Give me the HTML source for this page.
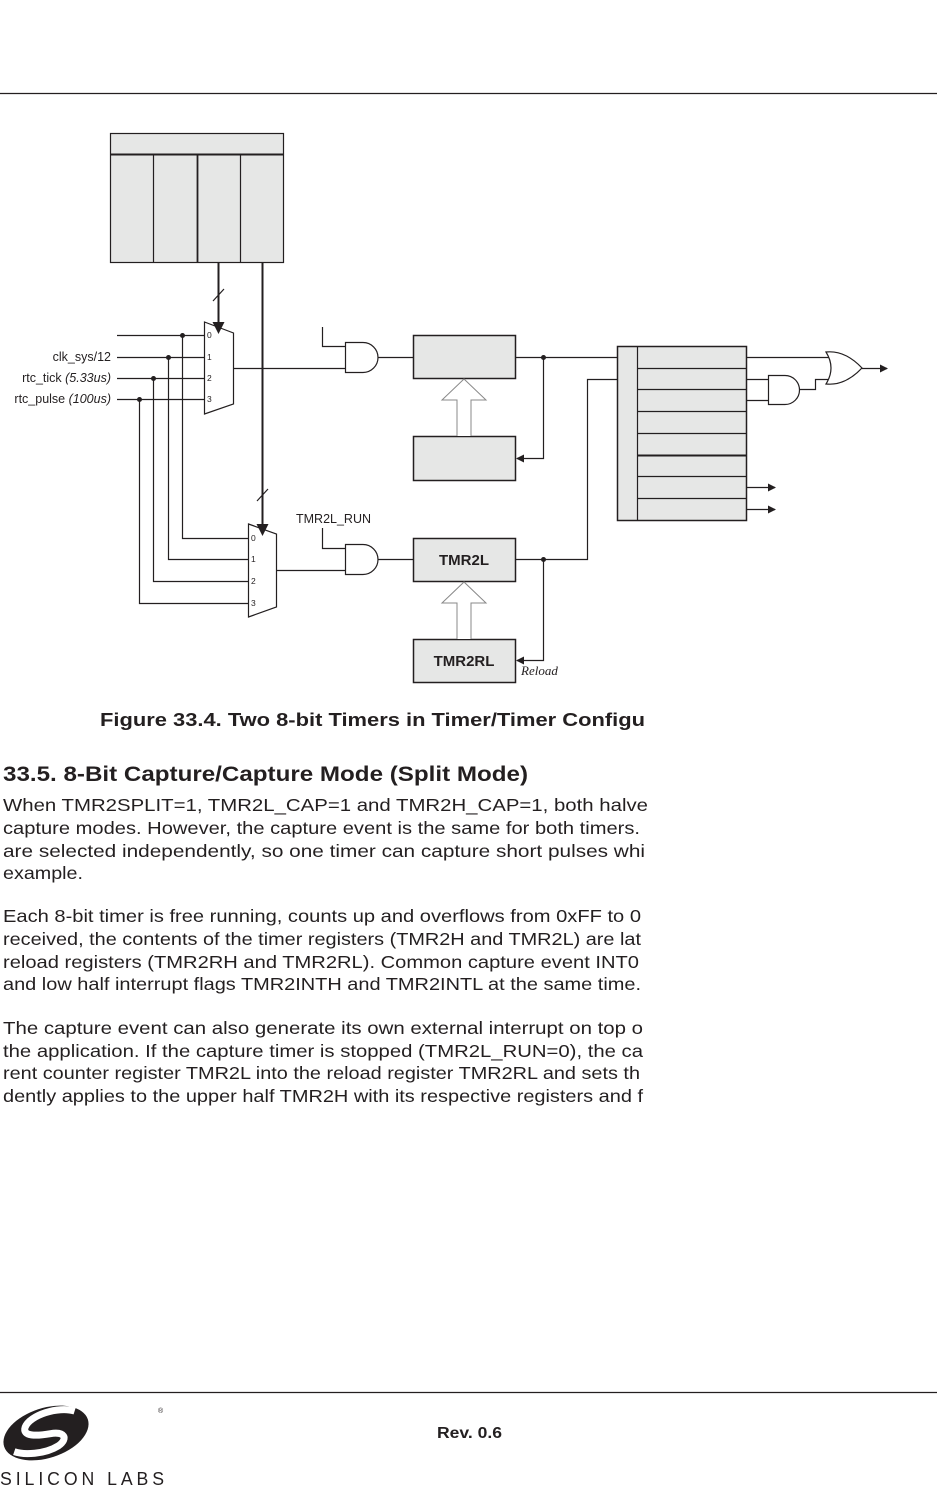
<!DOCTYPE html>
<html><head><meta charset="utf-8"><style>
html,body{margin:0;padding:0;background:#fff;}
svg{display:block;}
text{font-family:"Liberation Sans",Arial,sans-serif;fill:#231f20;}
</style></head><body>
<svg width="937" height="1487" viewBox="0 0 937 1487" xmlns="http://www.w3.org/2000/svg">
<defs>
<marker id="ah" markerWidth="8" markerHeight="8" refX="7" refY="4" orient="auto" markerUnits="userSpaceOnUse"><path d="M0,0 L8,4 L0,8 z" fill="#231f20"/></marker>
<marker id="ahb" markerWidth="12" markerHeight="12" refX="10" refY="6" orient="auto" markerUnits="userSpaceOnUse"><path d="M0,0 L12,6 L0,12 z" fill="#231f20"/></marker>
</defs>
<line x1="0" y1="93.5" x2="937" y2="93.5" stroke="#231f20" stroke-width="1.2"/>
<line x1="0" y1="1392.5" x2="937" y2="1392.5" stroke="#231f20" stroke-width="1.2"/>

<g stroke="#231f20" fill="none" stroke-width="1.2">
<!-- top register -->
<rect x="110.5" y="133.5" width="173" height="129" fill="#e6e7e6"/>
<line x1="110" y1="154.5" x2="284" y2="154.5" stroke-width="2"/>
<line x1="153.5" y1="154" x2="153.5" y2="262"/>
<line x1="197.5" y1="154" x2="197.5" y2="262" stroke-width="1.8"/>
<line x1="240.5" y1="154" x2="240.5" y2="262"/>
<!-- mux1 -->
<path d="M204.5,322 L233.5,333 L233.5,404 L204.5,414 Z" fill="#fff"/>
<!-- mux2 -->
<path d="M248.5,524 L276.5,534 L276.5,607 L248.5,617 Z" fill="#fff"/>
<!-- buses -->
<line x1="218.5" y1="262" x2="218.5" y2="332" stroke-width="2" marker-end="url(#ahb)"/>
<line x1="213" y1="301" x2="224" y2="289"/>
<line x1="262.5" y1="262" x2="262.5" y2="534" stroke-width="2" marker-end="url(#ahb)"/>
<line x1="257" y1="501" x2="268" y2="489"/>
<!-- input lines -->
<line x1="117" y1="335.5" x2="204" y2="335.5"/>
<line x1="117" y1="357.5" x2="204" y2="357.5"/>
<line x1="117" y1="378.5" x2="204" y2="378.5"/>
<line x1="117" y1="399.5" x2="204" y2="399.5"/>
<path d="M182.5,335 V538.5 H248"/>
<path d="M168.5,357 V559.5 H248"/>
<path d="M153.5,378 V581.5 H248"/>
<path d="M139.5,399 V603.5 H248"/>
<!-- mux outputs -->
<line x1="233" y1="368.5" x2="345" y2="368.5"/>
<line x1="276" y1="570.5" x2="345" y2="570.5"/>
<path d="M322.5,327 V346.5 H345"/>
<path d="M322.5,528 V548.5 H345"/>
<!-- AND1, AND2 -->
<path d="M345.5,342.5 H363 A15,15 0 0 1 363,372.5 H345.5 Z" fill="#fff"/>
<path d="M345.5,544.5 H363 A15,15 0 0 1 363,574.5 H345.5 Z" fill="#fff"/>
<line x1="378" y1="357.5" x2="413" y2="357.5"/>
<line x1="378" y1="559.5" x2="413" y2="559.5"/>
<!-- boxes -->
<rect x="413.5" y="335.5" width="102" height="43" fill="#e6e7e6" stroke-width="1.5"/>
<rect x="413.5" y="436.5" width="102" height="44" fill="#e6e7e6" stroke-width="1.5"/>
<rect x="413.5" y="538.5" width="102" height="43" fill="#e6e7e6" stroke-width="1.5"/>
<rect x="413.5" y="639.5" width="102" height="43" fill="#e6e7e6" stroke-width="1.5"/>
<!-- hollow arrows -->
<path d="M457,436 V400 H442 L464,379 L486,400 H471 V436" fill="#fff" stroke="#888" stroke-width="1"/>
<path d="M457,639 V603 H442 L464,582 L486,603 H471 V639" fill="#fff" stroke="#888" stroke-width="1"/>
<!-- box1 out -->
<line x1="515" y1="357.5" x2="636" y2="357.5" marker-end="url(#ah)"/>
<path d="M543.5,357 V458.5 H517" marker-end="url(#ah)"/>
<path d="M515,559.5 H587.5 V379.5 H636" marker-end="url(#ah)"/>
<path d="M543.5,559 V660.5 H517" marker-end="url(#ah)"/>
<!-- right register -->
<rect x="617.5" y="346.5" width="129" height="174" fill="#e6e7e6" stroke-width="1.5"/>
<line x1="637.5" y1="346" x2="637.5" y2="520"/>
<line x1="637" y1="368.5" x2="746" y2="368.5"/>
<line x1="637" y1="389.5" x2="746" y2="389.5"/>
<line x1="637" y1="411.5" x2="746" y2="411.5"/>
<line x1="637" y1="433.5" x2="746" y2="433.5"/>
<line x1="637" y1="455.5" x2="746" y2="455.5" stroke-width="2"/>
<line x1="637" y1="476.5" x2="746" y2="476.5"/>
<line x1="637" y1="498.5" x2="746" y2="498.5"/>
<!-- right logic -->
<line x1="746" y1="357.5" x2="830" y2="357.5"/>
<line x1="746" y1="379.5" x2="768" y2="379.5"/>
<line x1="746" y1="400.5" x2="768" y2="400.5"/>
<path d="M768.5,375.5 H785 A14.5,14.5 0 0 1 785,404.5 H768.5 Z" fill="#fff"/>
<path d="M800,389.5 H815.5 V379.5 H829"/>
<path d="M826,352 Q845,350 862,368 Q845,386 826,384 Q836,368 826,352 Z" fill="#fff"/>
<line x1="862" y1="368.5" x2="887" y2="368.5" marker-end="url(#ah)"/>
<line x1="746" y1="487.5" x2="775" y2="487.5" marker-end="url(#ah)"/>
<line x1="746" y1="509.5" x2="775" y2="509.5" marker-end="url(#ah)"/>
</g>
<g fill="#231f20">
<circle cx="182.5" cy="335.5" r="2.5"/><circle cx="168.5" cy="357.5" r="2.5"/>
<circle cx="153.5" cy="378.5" r="2.5"/><circle cx="139.5" cy="399.5" r="2.5"/>
<circle cx="543.5" cy="357.5" r="2.5"/><circle cx="543.5" cy="559.5" r="2.5"/>
</g>
<!-- diagram labels -->
<g font-size="8.5">
<text x="207" y="338">0</text><text x="207" y="360">1</text><text x="207" y="381">2</text><text x="207" y="402">3</text>
<text x="251" y="541">0</text><text x="251" y="562">1</text><text x="251" y="584">2</text><text x="251" y="606">3</text>
</g>
<g font-size="12.5">
<text x="111" y="361" text-anchor="end">clk_sys/12</text>
<text x="111" y="382" text-anchor="end">rtc_tick <tspan font-style="italic">(5.33us)</tspan></text>
<text x="111" y="403" text-anchor="end">rtc_pulse <tspan font-style="italic">(100us)</tspan></text>
<text x="296" y="523">TMR2L_RUN</text>
</g>
<text x="464" y="565" font-size="15" font-weight="bold" text-anchor="middle">TMR2L</text>
<text x="464" y="666" font-size="15" font-weight="bold" text-anchor="middle">TMR2RL</text>
<text x="521" y="675" font-size="13" font-style="italic" style="font-family:'Liberation Serif',serif">Reload</text>

<!-- text body -->
<text x="100" y="726" font-size="18" font-weight="bold" textLength="545" lengthAdjust="spacingAndGlyphs">Figure 33.4. Two 8-bit Timers in Timer/Timer Configu</text>
<text x="3" y="781" font-size="21" font-weight="bold" textLength="525" lengthAdjust="spacingAndGlyphs">33.5.  8-Bit Capture/Capture Mode (Split Mode)</text>
<g font-size="17.5">
<text x="3" y="811" textLength="645" lengthAdjust="spacingAndGlyphs">When TMR2SPLIT=1, TMR2L_CAP=1 and TMR2H_CAP=1, both halve</text>
<text x="3" y="834" textLength="637" lengthAdjust="spacingAndGlyphs">capture modes. However, the capture event is the same for both timers.</text>
<text x="3" y="857" textLength="642" lengthAdjust="spacingAndGlyphs">are selected independently, so one timer can capture short pulses whi</text>
<text x="3" y="879" textLength="80" lengthAdjust="spacingAndGlyphs">example.</text>
<text x="3" y="922" textLength="638" lengthAdjust="spacingAndGlyphs">Each 8-bit timer is free running, counts up and overflows from 0xFF to 0</text>
<text x="3" y="945" textLength="638" lengthAdjust="spacingAndGlyphs">received, the contents of the timer registers (TMR2H and TMR2L) are lat</text>
<text x="3" y="968" textLength="636" lengthAdjust="spacingAndGlyphs">reload registers (TMR2RH and TMR2RL). Common capture event INT0</text>
<text x="3" y="990" textLength="638" lengthAdjust="spacingAndGlyphs">and low half interrupt flags TMR2INTH and TMR2INTL at the same time.</text>
<text x="3" y="1034" textLength="640" lengthAdjust="spacingAndGlyphs">The capture event can also generate its own external interrupt on top o</text>
<text x="3" y="1057" textLength="640" lengthAdjust="spacingAndGlyphs">the application. If the capture timer is stopped (TMR2L_RUN=0), the ca</text>
<text x="3" y="1079" textLength="637" lengthAdjust="spacingAndGlyphs">rent counter register TMR2L into the reload register TMR2RL and sets th</text>
<text x="3" y="1102" textLength="640" lengthAdjust="spacingAndGlyphs">dently applies to the upper half TMR2H with its respective registers and f</text>
</g>

<!-- footer -->
<text x="437" y="1438" font-size="16" font-weight="bold" textLength="65" lengthAdjust="spacingAndGlyphs">Rev. 0.6</text>
<g transform="translate(46,1433) rotate(-18)">
<ellipse cx="0" cy="0" rx="44" ry="25" fill="#231f20"/>
<path d="M34,-12 C20,-22 -10,-22 -18,-12 C-24,-4 -10,0 4,2 C18,4 20,12 8,16 C-8,20 -28,14 -36,8" fill="none" stroke="#fff" stroke-width="7"/>
</g>
<text x="158" y="1413" font-size="7">®</text>
<text x="0" y="1485" font-size="18" textLength="168" lengthAdjust="spacingAndGlyphs" letter-spacing="4">SILICON LABS</text>
</svg>
</body></html>
